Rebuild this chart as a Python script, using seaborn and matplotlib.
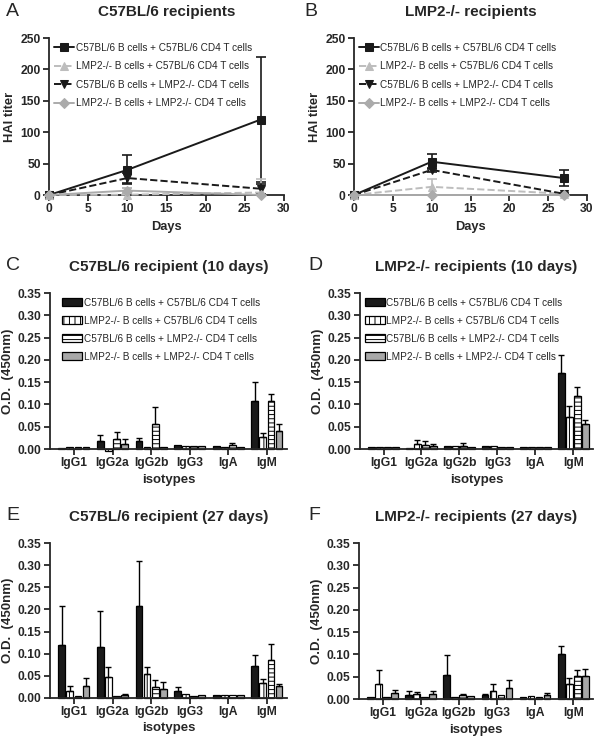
import numpy as np
import pandas as pd
import matplotlib
matplotlib.use("Agg")
import matplotlib.pyplot as plt
from matplotlib.ticker import FormatStrFormatter
import seaborn as sns

sns.set_style("ticks")
plt.rcParams["font.family"] = ["Liberation Sans", "DejaVu Sans"]
plt.rcParams["hatch.linewidth"] = 0.7

# ---- data ----
groups = [
    "C57BL/6 B cells + C57BL/6 CD4 T cells",
    "LMP2-/- B cells + C57BL/6 CD4 T cells",
    "C57BL/6 B cells + LMP2-/- CD4 T cells",
    "LMP2-/- B cells + LMP2-/- CD4 T cells",
]
days = [0, 10, 27]

# HAI titer, C57BL/6 recipients (mean, sem) per group
hai_a_mean = [[0, 40, 120], [0, 0.5, 4], [0, 27, 10], [0, 7, 0]]
hai_a_err = [[0, 23, 100], [0, 0.5, 22], [0, 8, 8], [0, 4, 0]]
# HAI titer, LMP2-/- recipients
hai_b_mean = [[0, 53, 27], [0, 13, 2], [0, 40, 2], [0, 0, 0]]
hai_b_err = [[0, 12, 13], [0, 13, 0], [0, 3, 1], [0, 0, 0]]

isotypes = ["IgG1", "IgG2a", "IgG2b", "IgG3", "IgA", "IgM"]

# O.D. values (rows = groups, cols = isotypes)
od_c = [[0.003, 0.019, 0.018, 0.008, 0.007, 0.107],
        [0.004, -0.005, 0.005, 0.006, 0.005, 0.028],
        [0.005, 0.023, 0.056, 0.006, 0.009, 0.108],
        [0.004, 0.012, 0.004, 0.007, 0.005, 0.040]]
od_c_err = [[0, 0.013, 0.007, 0, 0, 0.043],
            [0, 0, 0, 0, 0, 0.007],
            [0, 0.015, 0.039, 0, 0.004, 0.015],
            [0, 0.010, 0, 0, 0, 0.016]]

od_d = [[0.004, 0.002, 0.007, 0.007, 0.005, 0.170],
        [0.004, 0.011, 0.006, 0.006, 0.004, 0.072],
        [0.004, 0.009, 0.007, 0.005, 0.004, 0.120],
        [0.004, 0.007, 0.005, 0.005, 0.004, 0.055]]
od_d_err = [[0, 0, 0, 0, 0, 0.040],
            [0, 0.010, 0, 0, 0, 0.024],
            [0, 0.008, 0.006, 0, 0, 0.019],
            [0, 0.004, 0, 0, 0, 0.009]]

od_e = [[0.120, 0.115, 0.208, 0.016, 0.006, 0.073],
        [0.016, 0.047, 0.055, 0.008, 0.007, 0.035],
        [0.005, 0.004, 0.025, 0.005, 0.006, 0.086],
        [0.027, 0.006, 0.020, 0.007, 0.006, 0.026]]
od_e_err = [[0.088, 0.082, 0.102, 0.008, 0, 0.025],
            [0.012, 0.022, 0.014, 0, 0, 0.008],
            [0, 0, 0.016, 0, 0, 0.035],
            [0.018, 0.002, 0.016, 0, 0, 0.006]]

od_f = [[0.004, 0.008, 0.053, 0.010, 0.004, 0.100],
        [0.034, 0.012, 0.005, 0.019, 0.007, 0.034],
        [0.004, 0.004, 0.008, 0.009, 0.005, 0.052],
        [0.013, 0.011, 0.007, 0.024, 0.010, 0.051]]
od_f_err = [[0, 0.010, 0.045, 0.002, 0, 0.020],
            [0.030, 0.003, 0, 0.014, 0, 0.014],
            [0, 0, 0.004, 0, 0, 0.014],
            [0.008, 0.008, 0, 0.018, 0.003, 0.016]]

# ---- styles ----
line_colors = ["#1a1a1a", "#bdbdbd", "#1a1a1a", "#ababab"]
line_styles = ["-", "--", "--", "-"]
line_markers = ["s", "^", "v", "D"]
marker_sizes = [5.5, 5.5, 5.5, 5]
bar_colors = ["#1a1a1a", "white", "white", "#a8a8a8"]
bar_hatches = [None, "|||", "----", None]

fig = plt.figure(figsize=(6.01, 7.43), dpi=100)
W, H = 601, 743


def add_ax(l, t, r, b):
    return fig.add_axes([l / W, 1 - b / H, (r - l) / W, (b - t) / H])


def style_ax(ax):
    sns.despine(ax=ax)
    for s in ["left", "bottom"]:
        ax.spines[s].set_linewidth(1.3)
    ax.tick_params(width=1.3, length=4, labelsize=8.7, pad=2)
    for lab in ax.get_xticklabels() + ax.get_yticklabels():
        lab.set_fontweight("bold")


def panel_letter(ax, letter, x_px, dy_px):
    pos = ax.get_position()
    fig.text(x_px / W, pos.y1 + dy_px / H, letter, fontsize=14,
             va="center", ha="left")


def line_panel(ax, means, errs, title):
    for i in range(4):
        sns.lineplot(x=days, y=means[i], ax=ax, color=line_colors[i],
                     linestyle=line_styles[i], marker=line_markers[i],
                     markersize=marker_sizes[i], markeredgecolor=line_colors[i],
                     linewidth=1.4, label=groups[i], clip_on=False, zorder=3)
        ax.errorbar(days, means[i], yerr=errs[i], fmt="none",
                    ecolor=line_colors[i], elinewidth=1.2, capsize=3.5,
                    capthick=1.2, zorder=2)
    ax.set_xlim(0, 30)
    ax.set_ylim(0, 250)
    ax.set_xticks(range(0, 31, 5))
    ax.set_yticks(range(0, 251, 50))
    ax.set_xlabel("Days", fontsize=9.3, fontweight="bold", labelpad=4)
    ax.set_ylabel("HAI titer", fontsize=9.3, fontweight="bold", labelpad=3)
    ax.set_title(title, fontsize=11, fontweight="bold", pad=15.5)
    ax.legend(loc="upper left", bbox_to_anchor=(0.0, 1.0), frameon=False,
              fontsize=7.2, handlelength=2.0, handletextpad=0.2,
              labelspacing=0.85, borderaxespad=0.15, borderpad=0.3)
    style_ax(ax)


def bar_panel(ax, vals, errs, title, legend_x=None):
    df = pd.DataFrame({
        "isotype": np.tile(isotypes, 4),
        "group": np.repeat(groups, len(isotypes)),
        "od": np.ravel(vals),
    })
    sns.barplot(data=df, x="isotype", y="od", hue="group", hue_order=groups,
                palette=bar_colors, edgecolor="black", linewidth=0.9,
                width=0.84, gap=0.16, errorbar=None, ax=ax, legend=False)
    bars = list(ax.containers)
    for i, cont in enumerate(bars):
        for j, p in enumerate(cont.patches):
            p.set_clip_on(False)
            if bar_hatches[i]:
                p.set_hatch(bar_hatches[i])
            e = errs[i][j]
            if e > 0:
                xc = p.get_x() + p.get_width() / 2
                ax.errorbar(xc, vals[i][j], yerr=[[0], [e]], fmt="none",
                            ecolor="black", elinewidth=1.0, capsize=2.3,
                            capthick=1.0, zorder=1)
    ax.set_xlim(-0.62, 5.52)
    ax.set_ylim(0, 0.35)
    ax.set_yticks(np.arange(0, 0.351, 0.05))
    ax.yaxis.set_major_formatter(FormatStrFormatter("%.2f"))
    ax.set_xlabel("isotypes", fontsize=9.5, fontweight="bold", labelpad=3)
    ax.set_ylabel("O.D.  (450nm)", fontsize=9.5, fontweight="bold", labelpad=3)
    ax.set_title(title, fontsize=11, fontweight="bold", pad=15.5)
    if legend_x is not None:
        handles = [c.patches[0] for c in bars]
        ax.legend(handles, groups, loc="upper left",
                  bbox_to_anchor=(legend_x, 1.0), frameon=False, fontsize=7.2,
                  handlelength=2.0, handleheight=0.9, handletextpad=0.2,
                  labelspacing=0.8, borderaxespad=0.15, borderpad=0.3)
    style_ax(ax)


ax_a = add_ax(49, 38, 284, 195)
line_panel(ax_a, hai_a_mean, hai_a_err, "C57BL/6 recipients")
panel_letter(ax_a, "A", 6, 26)
ax_b = add_ax(354, 38, 587, 195)
line_panel(ax_b, hai_b_mean, hai_b_err, "LMP2-/- recipients")
panel_letter(ax_b, "B", 304, 26)

ax_c = add_ax(50, 293, 287, 449)
bar_panel(ax_c, od_c, od_c_err, "C57BL/6 recipient (10 days)", legend_x=0.03)
panel_letter(ax_c, "C", 6, 28)
ax_d = add_ax(360, 293, 593, 449)
bar_panel(ax_d, od_d, od_d_err, "LMP2-/- recipients (10 days)", legend_x=0.0)
panel_letter(ax_d, "D", 308, 28)
ax_e = add_ax(50, 543, 287, 698)
bar_panel(ax_e, od_e, od_e_err, "C57BL/6 recipient (27 days)")
panel_letter(ax_e, "E", 6, 28)
ax_f = add_ax(359, 543, 593, 699)
bar_panel(ax_f, od_f, od_f_err, "LMP2-/- recipients (27 days)")
panel_letter(ax_f, "F", 308, 28)

fig.savefig("out.png", dpi=100)
